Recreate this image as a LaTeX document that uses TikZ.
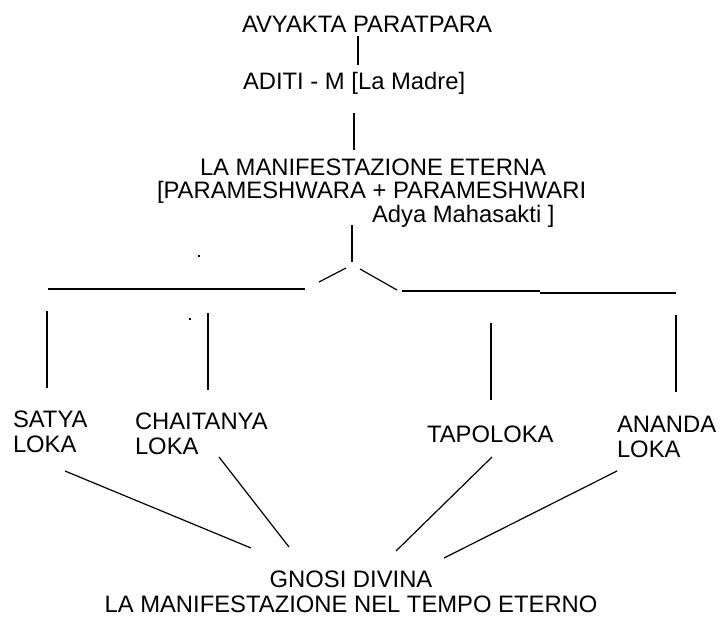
\documentclass[tikz,border=0pt]{standalone}
\usepackage{fontspec}
\setmainfont{Liberation Sans}
\begin{document}
\begin{tikzpicture}[x=1pt,y=-1pt,
  lbl/.style={inner sep=0pt,outer sep=0pt,font=\fontsize{23.8}{24.5}\selectfont},
  link/.style={line width=1.2pt,line cap=butt},
  speck/.style={fill=black}]
\useasboundingbox (0,0) rectangle (722,621);
% text nodes (multi-line nodes are anchored at the baseline of their last line)
\node[lbl,anchor=base west] (avy) at (242,32) {AVYAKTA PARATPARA};
\node[lbl,anchor=base west] (aditi) at (243,89) {ADITI - M [La Madre]};
\node[lbl,anchor=base west] (man1) at (200,175) {LA MANIFESTAZIONE ETERNA};
\node[lbl,anchor=base west] (man2) at (157,198) {[PARAMESHWARA + PARAMESHWARI};
\node[lbl,anchor=base west] (man3) at (372,222) {Adya Mahasakti ]};
\node[lbl,anchor=base west,align=left] (satya) at (13,452) {SATYA\\LOKA};
\node[lbl,anchor=base west,align=left] (chait) at (135,454) {CHAITANYA\\LOKA};
\node[lbl,anchor=base west] (tapo) at (427,442) {TAPOLOKA};
\node[lbl,anchor=base west,align=left] (ananda) at (617,457) {ANANDA\\LOKA};
\node[lbl,anchor=base,align=center] (gnosi) at (351,612) {GNOSI DIVINA\\LA MANIFESTAZIONE NEL TEMPO ETERNO};
% connector end points
\coordinate (a1) at (358,36);  \coordinate (a2) at (358,65);
\coordinate (b1) at (354,113); \coordinate (b2) at (354,150);
\coordinate (c1) at (352,225); \coordinate (c2) at (352,262);
\coordinate (dl1) at (319,282); \coordinate (dl2) at (346,268);
\coordinate (dr1) at (360,269); \coordinate (dr2) at (397,290);
\coordinate (h1) at (48,289);  \coordinate (h2) at (305,289);
\coordinate (h3) at (402,291); \coordinate (h4) at (540,291);
\coordinate (h5) at (540,293); \coordinate (h6) at (676,293);
\coordinate (v1a) at (47,311);  \coordinate (v1b) at (47,388);
\coordinate (v2a) at (208,313); \coordinate (v2b) at (208,390);
\coordinate (v3a) at (491,323); \coordinate (v3b) at (491,400);
\coordinate (v4a) at (676,315); \coordinate (v4b) at (676,392);
\coordinate (s1) at (65,471);  \coordinate (s2) at (251,548);
\coordinate (k1) at (219,457); \coordinate (k2) at (289,547);
\coordinate (t1) at (492,457); \coordinate (t2) at (396,551);
\coordinate (n1) at (617,471); \coordinate (n2) at (444,558);
% connectors
\draw[link] (a1) -- (a2);
\draw[link] (b1) -- (b2);
\draw[link] (c1) -- (c2);
\draw[link] (dl1) -- (dl2);
\draw[link] (dr1) -- (dr2);
\draw[link] (h1) -- (h2);
\draw[link] (h3) -- (h4);
\draw[link] (h5) -- (h6);
\draw[link] (v1a) -- (v1b);
\draw[link] (v2a) -- (v2b);
\draw[link] (v3a) -- (v3b);
\draw[link] (v4a) -- (v4b);
\draw[link] (s1) -- (s2);
\draw[link] (k1) -- (k2);
\draw[link] (t1) -- (t2);
\draw[link] (n1) -- (n2);
% stray specks
\fill[speck] (198,255) rectangle (200,257);
\fill[speck] (189,318) rectangle (191,320);
\end{tikzpicture}
\end{document}
